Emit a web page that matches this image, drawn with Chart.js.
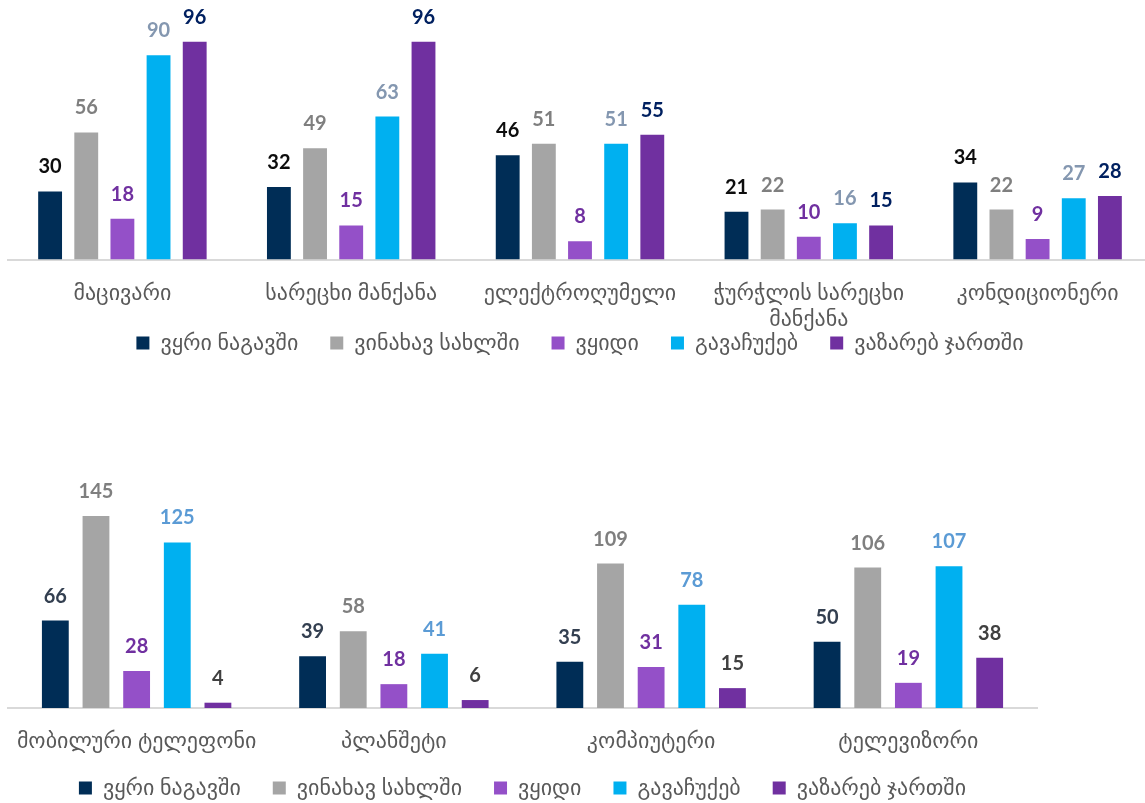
<!DOCTYPE html>
<html>
<head>
<meta charset="utf-8">
<script src="https://cdn.jsdelivr.net/npm/chart.js@4.4.1/dist/chart.umd.min.js"></script>
<style>
  html, body { margin: 0; padding: 0; background: #fff; overflow: hidden; width: 1145px; height: 803px; }
  .wrap { position: absolute; left: 0; }
  #top-wrap { top: 0; width: 1152px; height: 364px; }
  #bottom-wrap { top: 440px; width: 1053px; height: 369px; }
</style>
</head>
<body>
<div class="wrap" id="top-wrap"><canvas id="topChart"></canvas></div>
<div class="wrap" id="bottom-wrap"><canvas id="bottomChart"></canvas></div>
<script>
const seriesNames = ['ვყრი ნაგავში', 'ვინახავ სახლში', 'ვყიდი', 'გავაჩუქებ', 'ვაზარებ ჯართში'];
const barColors = ['#002D56', '#A5A5A5', '#9450C8', '#00B0F0', '#7030A0'];

const topCategories = ['მაცივარი', 'სარეცხი მანქანა', 'ელექტროღუმელი', ['ჭურჭლის სარეცხი', 'მანქანა'], 'კონდიციონერი'];
const topThrow = [30, 32, 46, 21, 34];
const topKeep = [56, 49, 51, 22, 22];
const topSell = [18, 15, 8, 10, 9];
const topGive = [90, 63, 51, 16, 27];
const topScrap = [96, 96, 55, 15, 28];
const topLabelColors = ['#0D0D0D', '#7F7F7F', '#7030A0', '#8497B0', '#002060'];

const bottomCategories = ['მობილური ტელეფონი', 'პლანშეტი', 'კომპიუტერი', 'ტელევიზორი'];
const bottomThrow = [66, 39, 35, 50];
const bottomKeep = [145, 58, 109, 106];
const bottomSell = [28, 18, 31, 19];
const bottomGive = [125, 41, 78, 107];
const bottomScrap = [4, 6, 15, 38];
const bottomLabelColors = ['#333F50', '#7F7F7F', '#7030A0', '#5B9BD5', '#404040'];

Chart.defaults.font.family = 'Lato, "DejaVu Sans", sans-serif';
Chart.defaults.color = '#595959';

// numbers over the bars
const valueLabels = {
    id: 'valueLabels',
    afterDatasetsDraw(chart, args, opts) {
        const ctx = chart.ctx;
        ctx.save();
        ctx.font = 'bold 20px Lato, "DejaVu Sans", sans-serif';
        ctx.textAlign = 'center';
        ctx.textBaseline = 'alphabetic';
        chart.data.datasets.forEach((ds, i) => {
            const meta = chart.getDatasetMeta(i);
            meta.data.forEach((bar, j) => {
                ctx.fillStyle = opts.colors[i];
                ctx.fillText(ds.data[j], bar.x, bar.y - 18);
            });
        });
        ctx.restore();
    }
};

// let a wrapped category label run down into the legend band (not clipped)
const looseLabels = {
    id: 'looseLabels',
    afterLayout(chart) {
        chart.scales.x.bottom = chart.height;
    }
};

function makeChart(canvasId, categories, series, labelColors, yMax, pad, axisHeight) {
    const datasets = series.map((data, i) => ({
        label: seriesNames[i],
        data: data,
        backgroundColor: barColors[i],
        categoryPercentage: 0.79,
        barPercentage: 0.66
    }));
    return new Chart(document.getElementById(canvasId), {
        type: 'bar',
        data: { labels: categories, datasets: datasets },
        plugins: [valueLabels, looseLabels],
        options: {
            responsive: true,
            maintainAspectRatio: false,
            animation: false,
            layout: { padding: pad },
            plugins: {
                legend: {
                    position: 'bottom',
                    labels: { boxWidth: 13, boxHeight: 13, padding: 32, color: '#595959', font: { size: 22 } }
                },
                tooltip: { enabled: false },
                valueLabels: { colors: labelColors }
            },
            scales: {
                x: {
                    grid: { display: false, drawTicks: false },
                    border: { color: '#D9D9D9', width: 2 },
                    ticks: { color: '#595959', font: { size: 22 }, padding: 20, maxRotation: 0, autoSkip: false },
                    afterFit: (scale) => {
                        scale.height = axisHeight;
                        scale.paddingLeft = 0;
                        scale.paddingRight = 0;
                    }
                },
                y: { display: false, min: 0, max: yMax }
            }
        }
    });
}

makeChart('topChart', topCategories, [topThrow, topKeep, topSell, topGive, topScrap], topLabelColors,
    110, { top: 10, left: 8, right: 0, bottom: 0 }, 40.5);
makeChart('bottomChart', bottomCategories, [bottomThrow, bottomKeep, bottomSell, bottomGive, bottomScrap], bottomLabelColors,
    160, { top: 56, left: 8, right: 16, bottom: 0 }, 37);
</script>
</body>
</html>
